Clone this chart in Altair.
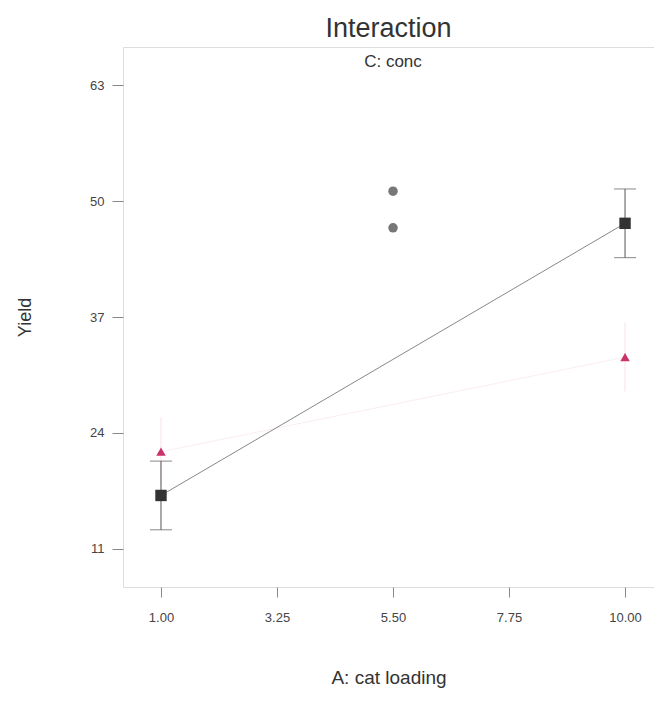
import altair as alt
import pandas as pd

# Factor A levels and means (C low = squares, C high = triangles)
a_levels = [1.0, 10.0]
sq_mean = [17.0, 47.5]
tri_mean = [21.9, 32.5]
half_lsd = [3.85, 3.85]
# center points at A = 5.50
center_x = [5.5, 5.5]
center_y = [51.1, 47.0]

x_ticks = [1.0, 3.25, 5.5, 7.75, 10.0]
y_ticks = [11, 24, 37, 50, 63]

sq = pd.DataFrame({"A": a_levels, "Y": sq_mean,
                   "lo": [m - h for m, h in zip(sq_mean, half_lsd)],
                   "hi": [m + h for m, h in zip(sq_mean, half_lsd)]})
tri = pd.DataFrame({"A": a_levels, "Y": tri_mean,
                    "lo": [m - h for m, h in zip(tri_mean, half_lsd)],
                    "hi": [m + h for m, h in zip(tri_mean, half_lsd)]})
ctr = pd.DataFrame({"A": center_x, "Y": center_y})

FONT = "Liberation Sans"
W = 531
xs = alt.Scale(domain=[0.263, 0.263 + W / 51.56], nice=False, zero=False)
ys = alt.Scale(domain=[6.74, 67.26], nice=False, zero=False)

xenc = alt.X("A:Q", scale=xs, title="A: cat loading",
             axis=alt.Axis(values=x_ticks, format=".2f", tickSize=10, labelPadding=14,
                           titlePadding=44, labelFontSize=13, titleFontSize=19,
                           labelColor="#444", titleColor="#333", tickColor="#888",
                           domain=False, grid=False, labelFont=FONT, titleFont=FONT,
                           titleFontWeight="normal"))
yenc = alt.Y("Y:Q", scale=ys, title="Yield",
             axis=alt.Axis(values=y_ticks, tickSize=11, labelPadding=8,
                           titlePadding=55, labelFontSize=13, titleFontSize=18,
                           labelColor="#444", titleColor="#333", tickColor="#888",
                           domain=False, grid=False, labelFont=FONT, titleFont=FONT,
                           titleFontWeight="normal"))

base_sq = alt.Chart(sq)
base_tri = alt.Chart(tri)

tri_line = base_tri.mark_line(color="#e8a0b8", strokeWidth=1, opacity=0.2).encode(x=xenc, y=yenc)
tri_err = base_tri.mark_rule(color="#e8a0b8", opacity=0.3).encode(x="A:Q", y="lo:Q", y2="hi:Q")
sq_line = base_sq.mark_line(color="#888", strokeWidth=1).encode(x=xenc, y=yenc)
sq_err = base_sq.mark_rule(color="#555", strokeWidth=1).encode(x="A:Q", y="lo:Q", y2="hi:Q")
sq_cap_lo = base_sq.mark_tick(color="#555", orient="horizontal", size=22, thickness=1).encode(x="A:Q", y="lo:Q")
sq_cap_hi = base_sq.mark_tick(color="#555", orient="horizontal", size=22, thickness=1).encode(x="A:Q", y="hi:Q")
sq_pts = base_sq.mark_point(shape="square", filled=True, color="#333", size=130, opacity=1).encode(x="A:Q", y="Y:Q")
tri_pts = base_tri.mark_point(shape="triangle-up", filled=True, color="#c8336a", size=90, opacity=1).encode(x="A:Q", y="Y:Q")
ctr_pts = alt.Chart(ctr).mark_circle(color="#777", size=90, opacity=1).encode(x="A:Q", y="Y:Q")

sub = alt.Chart(pd.DataFrame({"t": ["C: conc"]})).mark_text(
    font=FONT, fontSize=17, color="#333", baseline="middle", align="center"
).encode(text="t:N", x=alt.value(270), y=alt.value(15))

chart = alt.layer(tri_line, tri_err, sq_line, sq_err, sq_cap_lo, sq_cap_hi,
                  ctr_pts, sq_pts, tri_pts, sub).properties(
    width=W, height=540,
    title=alt.TitleParams("Interaction", font=FONT, fontSize=27, fontWeight="normal",
                          color="#333", anchor="middle", offset=4),
    autosize=alt.AutoSizeParams(type="none"),
    padding={"left": 115, "top": 39, "right": 0, "bottom": 104},
).configure_view(stroke="#888", strokeWidth=1).configure(background="white")

chart.save("out.html", embed_options={"renderer": "svg", "actions": False})
